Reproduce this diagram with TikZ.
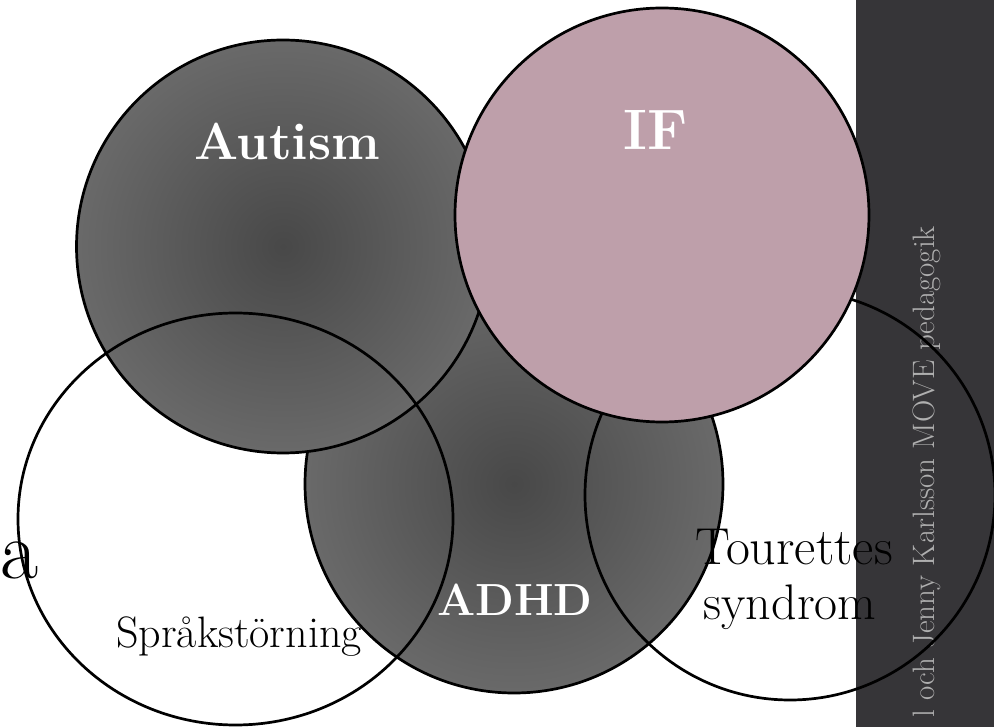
\documentclass[tikz,border=0pt]{standalone}
\usepackage{fontspec}
\usetikzlibrary{shapes.geometric}
\definecolor{vcenter}{RGB}{72,72,72}
\definecolor{vedge}{RGB}{128,128,128}
\definecolor{ifpink}{RGB}{190,159,170}
\definecolor{barcol}{RGB}{54,53,56}
\definecolor{bartext}{RGB}{175,175,175}
\pgfdeclareradialshading{vennshade}{\pgfpoint{0bp}{0bp}}{color(0bp)=(vcenter); color(42bp)=(vedge); color(100bp)=(vedge)}
\tikzset{
  venn/.style={line width=2.7pt, draw=black},
  shadedvenn/.style={venn, shading=vennshade},
  boldlabel/.style={text=white, font=\fontsize{#1}{#1}\selectfont\bfseries, inner sep=0pt},
  plainlabel/.style={text=black, font=\fontsize{#1}{#1}\selectfont, inner sep=0pt, align=center},
}
\begin{document}
\begin{tikzpicture}[x=1pt,y=-1pt]
\useasboundingbox (0,0) rectangle (994,727);
\clip (0,0) rectangle (994,727);
\fill[white] (0,0) rectangle (994,727);
% side bar
\fill[barcol] (856,0) rectangle (994,727);
\node[rotate=90, anchor=base east, text=bartext, font=\fontsize{31}{31}\selectfont, inner sep=0pt] (credit) at (934,226) {l och Jenny Karlsson MOVE pedagogik};
% circles
\path[shadedvenn] (514,484) circle [radius=209pt];
\path[shadedvenn] (283,246.5) circle [radius=206.5pt];
\draw[venn] (235.5,519) ellipse [x radius=217.5pt, y radius=206pt];
\draw[venn] (790,495) circle [radius=205pt];
\path[venn, fill=ifpink] (662,215) circle [radius=207pt];
% labels
\node[boldlabel=52, anchor=base] (autism) at (287,160) {Autism};
\node[boldlabel=57, anchor=base] (if) at (656,150) {IF};
\node[boldlabel=45, anchor=base] (adhd) at (515,615) {ADHD};
\node[plainlabel=52, anchor=base] (tour) at (794,564) {Tourettes};
\node[plainlabel=50, anchor=base] (synd) at (790,619) {syndrom};
\node[plainlabel=44, anchor=base] (sprak) at (239,647) {Språkstörning};
\node[plainlabel=83, anchor=base west] (a) at (0,578) {a};
\end{tikzpicture}
\end{document}
